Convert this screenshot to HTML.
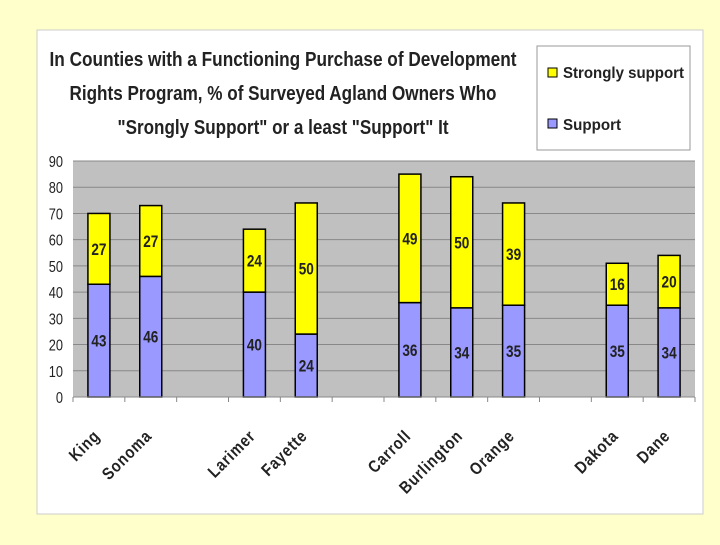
<!DOCTYPE html>
<html><head><meta charset="utf-8"><style>
body{margin:0;width:720px;height:540px;background:#FFFFCC;overflow:hidden;font-family:"Liberation Sans",Arial,sans-serif;}
</style></head><body>
<svg width="720" height="540" xmlns="http://www.w3.org/2000/svg">
<rect x="37" y="30" width="666" height="484" fill="#fff" stroke="#ccc"/>
<g font-weight="bold" font-size="20" text-anchor="middle" fill="#222">
<text x="283" y="66" textLength="467" lengthAdjust="spacingAndGlyphs">In Counties with a Functioning Purchase of Development</text>
<text x="283" y="100" textLength="427" lengthAdjust="spacingAndGlyphs">Rights Program, % of Surveyed Agland Owners Who</text>
<text x="283" y="134" textLength="331" lengthAdjust="spacingAndGlyphs">"Srongly Support" or a least "Support" It</text>
</g>
<g>
<rect x="537" y="46" width="153" height="104" fill="#fff" stroke="#999"/>
<rect x="548" y="68" width="9" height="9" fill="#FFFF00" stroke="#000"/>
<text x="563" y="78" font-size="16" font-weight="bold" fill="#222" textLength="121" lengthAdjust="spacingAndGlyphs">Strongly support</text>
<rect x="548" y="119" width="9" height="9" fill="#9999FF" stroke="#000"/>
<text x="563" y="130" font-size="16" font-weight="bold" fill="#222" textLength="58" lengthAdjust="spacingAndGlyphs">Support</text>
</g>
<rect x="73" y="161" width="622" height="236" fill="#C0C0C0"/>
<g id="grid"></g><g id="bars"></g><g id="axes"></g>
</svg>
<script>
const categories=["King","Sonoma","","Larimer","Fayette","","Carroll","Burlington","Orange","","Dakota","Dane"];
const support=[43,46,null,40,24,null,36,34,35,null,35,34];
const strong=[27,27,null,24,50,null,49,50,39,null,16,20];
const yTicks=[0,10,20,30,40,50,60,70,80,90];
const NS="http://www.w3.org/2000/svg";
const X0=73,X1=695,Y0=397,Y1=161,YMAX=90;
const slot=(X1-X0)/categories.length;
const y=v=>Y0-(v/YMAX)*(Y0-Y1);
const xc=i=>X0+slot*(i+0.5);
function mk(t,a,p){const e=document.createElementNS(NS,t);for(const k in a)e.setAttribute(k,a[k]);p.appendChild(e);return e;}
const grid=document.getElementById('grid'),bars=document.getElementById('bars'),axes=document.getElementById('axes');
yTicks.forEach(t=>{
 if(t>0){const l=mk('line',{x1:X0,x2:X1,y1:y(t),y2:y(t),stroke:'#888','stroke-width':1},grid);
 
 }
 const tx=mk('text',{transform:`translate(${X0-10},${y(t)+6}) scale(0.8,1)`,'font-size':16,'text-anchor':'end',fill:'#222'},axes);tx.textContent=t;
 
 
});
mk('line',{x1:X0,x2:X1,y1:Y0,y2:Y0,stroke:'#888'},axes);
for(let i=0;i<=categories.length;i++)mk('line',{x1:X0+slot*i,x2:X0+slot*i,y1:Y0,y2:Y0+5,stroke:'#888'},axes);
const bw=22;
categories.forEach((c,i)=>{
 if(support[i]==null)return;
 const cx=xc(i);
 const s=support[i],g=strong[i];
 const r1=mk('rect',{x:cx-bw/2,y:y(s),width:bw,height:Y0-y(s),fill:'#9999FF',stroke:'#000','stroke-width':1.5},bars);
 
 
 const r2=mk('rect',{x:cx-bw/2,y:y(s+g),width:bw,height:y(s)-y(s+g),fill:'#FFFF00',stroke:'#000','stroke-width':1.5},bars);
 
 
 const l1=mk('text',{transform:`translate(${cx},${(y(s)+Y0)/2+6}) scale(0.8,1)`,'font-size':17,'font-weight':'bold','text-anchor':'middle',fill:'#222'},bars);l1.textContent=s;
 
 
 const l2=mk('text',{transform:`translate(${cx},${(y(s)+y(s+g))/2+6}) scale(0.8,1)`,'font-size':17,'font-weight':'bold','text-anchor':'middle',fill:'#222'},bars);l2.textContent=g;
 
 
 const cl=mk('text',{transform:`translate(${cx+2},${Y0+40}) rotate(-45) scale(0.85,1)`,'font-size':17,'font-weight':'bold','text-anchor':'end',fill:'#222','letter-spacing':'1'},axes);cl.textContent=c;
 
 
});
</script>
</body></html>
